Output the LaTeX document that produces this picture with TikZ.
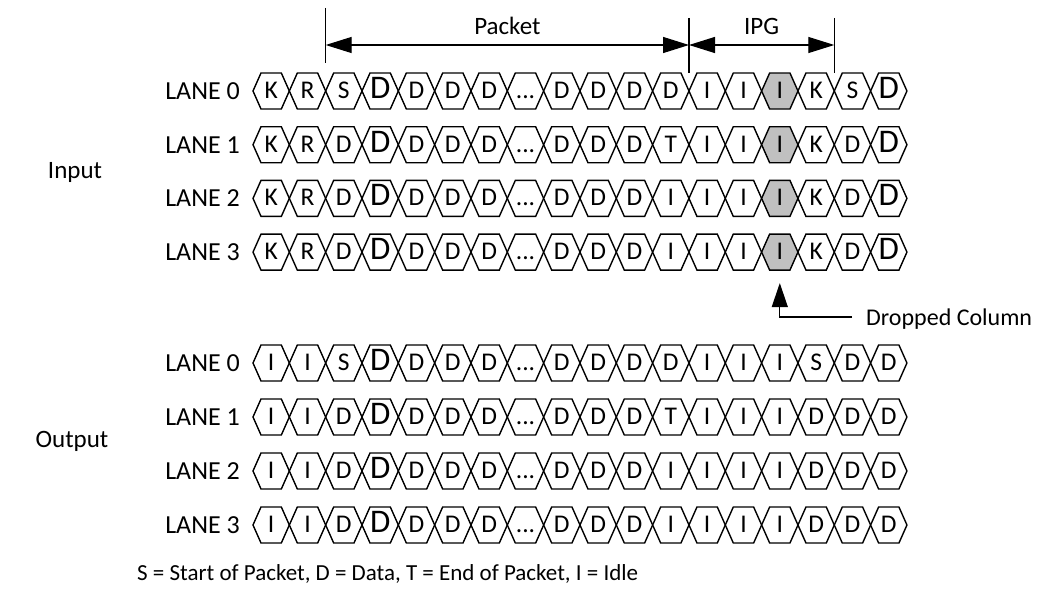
\documentclass[tikz,border=0pt]{standalone}
\usepackage{fontspec}
\setmainfont{Carlito}
\usetikzlibrary{arrows.meta}

\definecolor{cellgray}{RGB}{192,192,192}
\def\codeB{B}
\def\codeG{G}
\def\codeE{E}

\begin{document}
\begin{tikzpicture}[x=1pt,y=-1pt,
            cell/.style={draw=black,line width=1.4pt,line join=miter},
            cell text/.style={inner sep=0pt,anchor=base,font=\fontsize{25.5}{28}\selectfont},
            big text/.style={inner sep=0pt,anchor=base,font=\fontsize{33}{36}\selectfont},
            lane label/.style={inner sep=0pt,font=\fontsize{26}{30}\selectfont},
            side label/.style={inner sep=0pt,font=\fontsize{25}{30}\selectfont},
            limit/.style={black,line width=1.4pt},
            dim arrow/.style={black,line width=1.2pt,{Triangle[length=26pt,width=16pt]}-{Triangle[length=26pt,width=16pt]}},
            pointer/.style={black,line width=1.2pt,-{Triangle[length=24pt,width=16pt]}}]

    \useasboundingbox (0,0) rectangle (1038,594);

    % the lanes, input above and output below
    \foreach \yy/\nm/\lab/\cells in {
        91/in0/0/{K,R,S,B,D,D,D,E,D,D,D,D,I,I,G,K,S,B},
        144.7/in1/1/{K,R,D,B,D,D,D,E,D,D,D,T,I,I,G,K,D,B},
        198.4/in2/2/{K,R,D,B,D,D,D,E,D,D,D,I,I,I,G,K,D,B},
        252.1/in3/3/{K,R,D,B,D,D,D,E,D,D,D,I,I,I,G,K,D,B},
        363/out0/0/{I,I,S,B,D,D,D,E,D,D,D,D,I,I,I,S,D,D},
        417/out1/1/{I,I,D,B,D,D,D,E,D,D,D,T,I,I,I,D,D,D},
        471/out2/2/{I,I,D,B,D,D,D,E,D,D,D,I,I,I,I,D,D,D},
        525/out3/3/{I,I,D,B,D,D,D,E,D,D,D,I,I,I,I,D,D,D}} {
        \node[lane label,anchor=base east] (lab-\nm) at (240,\yy+8.5) {LANE \lab};
        \foreach \t [count=\i from 0] in \cells {
            \pgfmathsetmacro\cx{271.17+36.33*\i}
            \def\fillc{white}\def\txt{\t}\def\tstyle{cell text}
            \ifx\t\codeG \def\fillc{cellgray}\def\txt{I}\fi
            \ifx\t\codeB \def\txt{D}\def\tstyle{big text}\fi
            \ifx\t\codeE \def\txt{...}\fi
            \filldraw[cell,fill=\fillc] (\cx-18.17,\yy) -- ++(8,-18) -- ++(20.33,0)
                -- ++(8,18) -- ++(-8,18) -- ++(-20.33,0) -- cycle;
            \coordinate (h\nm-\i) at (\cx,\yy+18);
            \node[\tstyle] (c\nm-\i) at (\cx,\yy+7.5) {\txt};
        }
    }

    \node[side label] (input) at (75,172) {Input};
    \node[side label] (output) at (72,441) {Output};

    % packet and IPG markers
    \coordinate (pk-l) at (325.67,45);
    \coordinate (pk-r) at (689,45);
    \coordinate (ipg-r) at (834.3,45);
    \draw[limit] (325.67,8) -- (325.67,63);
    \draw[limit] (689,18) -- (689,73);
    \draw[limit] (834.3,18) -- (834.3,73);
    \draw[dim arrow] (pk-l) -- (pk-r) node[side label, midway, anchor=base, yshift=10pt]{Packet};
    \draw[dim arrow] (pk-r) -- (ipg-r) node[side label, midway, anchor=base, yshift=10pt]{IPG};

    % dropped column
    \node[lane label,anchor=base west,font=\fontsize{24}{28}\selectfont] (drop) at (866,325) {Dropped Column};
    \coordinate (drop-end) at (852,317);
    \draw[pointer] (drop-end) -| ([yshift=-13pt]hin3-14);

    \node[lane label,anchor=base west,font=\fontsize{23}{28}\selectfont] (legend) at (137,580) {S = Start of Packet, D = Data, T = End of Packet, I = Idle};
\end{tikzpicture}
\end{document}
